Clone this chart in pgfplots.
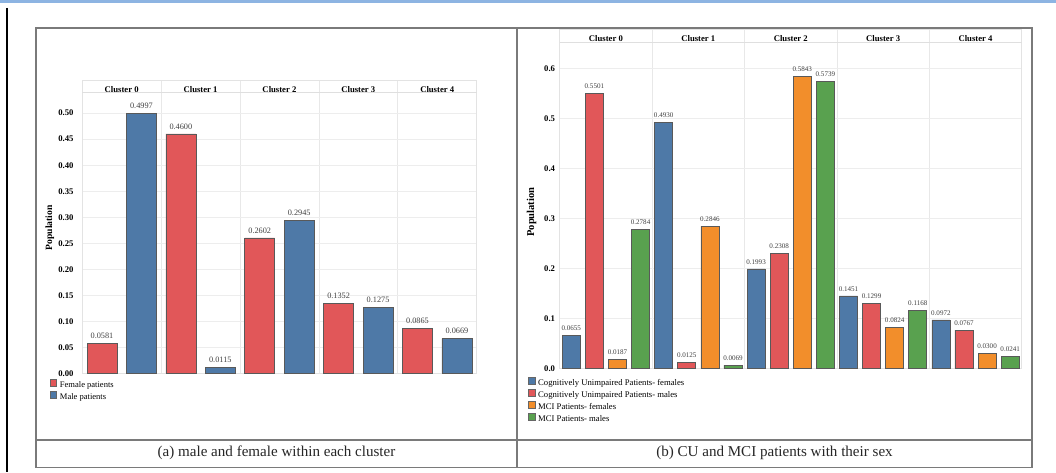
\documentclass[border=0pt]{standalone}
\usepackage{pgfplots}
\pgfplotsset{compat=1.18}
\usepackage{fontspec}
\setmainfont{Liberation Serif}
\newcommand\fs[1]{\fontsize{#1}{#1}\selectfont}
\definecolor{tbblue}{HTML}{4E79A7}
\definecolor{tbred}{HTML}{E15759}
\definecolor{tborange}{HTML}{F28E2B}
\definecolor{tbgreen}{HTML}{59A14F}
\definecolor{bandblue}{HTML}{8DB4E2}
\definecolor{framegray}{HTML}{7A7A7A}
\pgfplotsset{
  tabstyle/.style={
    scale only axis, ybar, bar shift=0pt,
    axis line style={draw=gray!22},
    major tick length=0pt, minor tick length=0pt,
    ymajorgrids, xminorgrids,
    grid style={gray!14, line width=0.5pt},
    minor grid style={gray!18, line width=0.5pt},
    xticklabel pos=upper,
    point meta=y,
    nodes near coords={\pgfmathprintnumber[fixed,fixed zerofill,precision=4,assume math mode=true]{\pgfplotspointmeta}},
    every axis plot/.append style={draw=black!65, line width=0.5pt},
    legend cell align=left,
    legend image code/.code={\draw[##1, draw=black!60, line width=0.4pt] (0pt,-0.7pt) rectangle (5.2pt,4.5pt);},
  }
}
\begin{document}
\begin{tikzpicture}
\useasboundingbox (0,0) rectangle (792pt,354pt);
\begin{scope}[x=0.75pt,y=0.75pt]
  \fill[bandblue] (0,469) rectangle (1056,472);
  \draw[black, line width=1.8pt] (7,464) -- (7,0);
  \draw[framegray, line width=1.2pt] (36,444) rectangle (1032,4.5);
  \draw[framegray, line width=1.2pt] (517,444) -- (517,4.5);
  \draw[framegray, line width=1.0pt] (36,32) -- (1032,32);
  \node[font=\fs{11.3}, text=black!85] at (276.5,19.5) {(a) male and female within each cluster};
  \node[font=\fs{11.3}, text=black!85] at (774.5,19.5) {(b) CU and MCI patients with their sex};
\end{scope}

% Panel (a)
\begin{axis}[tabstyle,
  at={(61.7pt,73.9pt)}, anchor=south west,
  width=295.8pt, height=220.1pt,
  xmin=0, xmax=10, ymin=0, ymax=0.5636,
  bar width=0.76,
  xtick={1,3,5,7,9},
  xticklabels={Cluster 0,Cluster 1,Cluster 2,Cluster 3,Cluster 4},
  xticklabel style={anchor=north, font=\bfseries\fs{6.5}, yshift=-1.2pt},
  minor xtick={2,4,6,8},
  ytick={0,0.05,0.10,0.15,0.20,0.25,0.30,0.35,0.40,0.45,0.50},
  yticklabels={0.00,0.05,0.10,0.15,0.20,0.25,0.30,0.35,0.40,0.45,0.50},
  yticklabel style={font=\bfseries\fs{6.5}, xshift=-3pt},
  extra y ticks={0.5405}, extra y tick labels={},
  extra y tick style={grid=major, major grid style={gray!25}},
  ylabel={Population},
  ylabel style={font=\bfseries\fs{7.2}, at={(axis description cs:-0.082,0.496)}, anchor=center},
  nodes near coords style={font=\fs{6.2}, text=black!75},
  legend style={at={(axis description cs:-0.0837,-0.0187)}, anchor=north west, draw=none, fill=none,
    font=\fs{6.4}, inner sep=0pt, row sep=0.9pt,
    nodes={inner sep=0.6pt, text height=4.4pt, text depth=1.3pt},
    /tikz/every even column/.style={column sep=1.2pt},
    /tikz/every odd column/.style={column sep=1.6pt}},
]
\addplot[fill=tbred] coordinates {(0.5,0.0581) (2.5,0.4600) (4.5,0.2602) (6.5,0.1352) (8.5,0.0865)};
\addlegendentry{Female patients}
\addplot[fill=tbblue] coordinates {(1.5,0.4997) (3.5,0.0115) (5.5,0.2945) (7.5,0.1275) (9.5,0.0669)};
\addlegendentry{Male patients}
\end{axis}

% Panel (b)
\begin{axis}[tabstyle,
  at={(419.8pt,77.6pt)}, anchor=south west,
  width=346.5pt, height=254.6pt,
  xmin=0, xmax=20, ymin=0, ymax=0.679,
  bar width=0.78,
  xtick={2,6,10,14,18},
  xticklabels={Cluster 0,Cluster 1,Cluster 2,Cluster 3,Cluster 4},
  xticklabel style={anchor=north, font=\bfseries\fs{6.5}, yshift=-1.2pt},
  minor xtick={4,8,12,16},
  ytick={0,0.1,0.2,0.3,0.4,0.5,0.6},
  yticklabels={0.0,0.1,0.2,0.3,0.4,0.5,0.6},
  yticklabel style={font=\bfseries\fs{6.5}},
  extra y ticks={0.653}, extra y tick labels={},
  extra y tick style={grid=major, major grid style={gray!25}},
  ylabel={Population},
  ylabel style={font=\bfseries\fs{7.9}, at={(axis description cs:-0.061,0.461)}, anchor=center},
  nodes near coords style={font=\fs{5.3}, text=black!75},
  legend style={at={(axis description cs:-0.0686,-0.025)}, anchor=north west, draw=none, fill=none,
    font=\fs{6.5}, inner sep=0pt, row sep=0.8pt,
    nodes={inner sep=0.6pt, text height=4.5pt, text depth=1.3pt},
    /tikz/every odd column/.style={column sep=1.2pt}},
]
\addplot[fill=tbblue] coordinates {(0.5,0.0655) (4.5,0.4930) (8.5,0.1993) (12.5,0.1451) (16.5,0.0972)};
\addlegendentry{Cognitively Unimpaired Patients- females}
\addplot[fill=tbred] coordinates {(1.5,0.5501) (5.5,0.0125) (9.5,0.2308) (13.5,0.1299) (17.5,0.0767)};
\addlegendentry{Cognitively Unimpaired Patients- males}
\addplot[fill=tborange] coordinates {(2.5,0.0187) (6.5,0.2846) (10.5,0.5843) (14.5,0.0824) (18.5,0.0300)};
\addlegendentry{MCI Patients- females}
\addplot[fill=tbgreen] coordinates {(3.5,0.2784) (7.5,0.0069) (11.5,0.5739) (15.5,0.1168) (19.5,0.0241)};
\addlegendentry{MCI Patients- males}
\end{axis}
\end{tikzpicture}
\end{document}
